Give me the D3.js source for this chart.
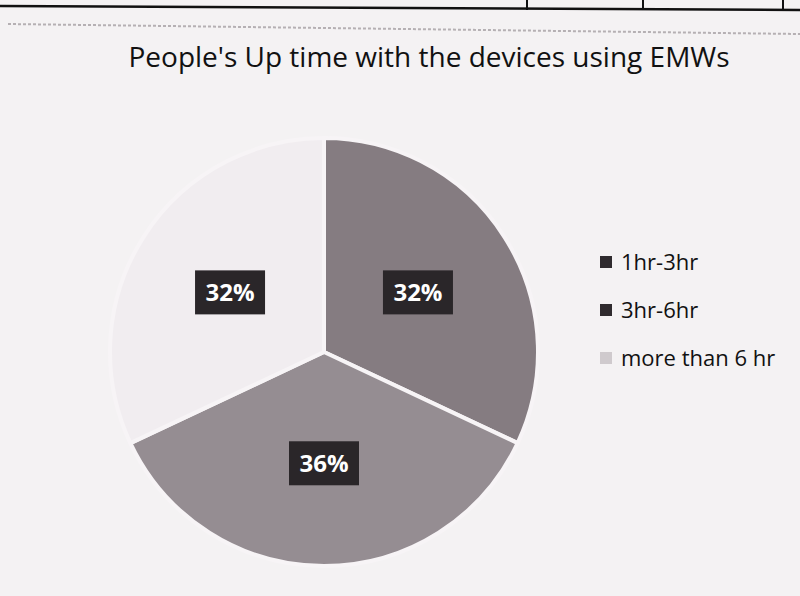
<!DOCTYPE html>
<html lang="en">
<head>
<meta charset="UTF-8">
<title>People's Up time with the devices using EMWs</title>
<script src="https://d3js.org/d3.v7.min.js"></script>
<style>
  body { margin: 0; background: #f4f2f3; }
  svg { display: block; }
</style>
</head>
<body>
<div id="grafico"></div>
<script>
// dados do grafico
const categorias = ["1hr-3hr", "3hr-6hr", "more than 6 hr"];
const valores = [32, 36, 32];
const rotulos = ["32%", "36%", "32%"];
const cores = ["#857c81", "#958d92", "#f1edf0"];

const width = 800, height = 596;
const svg = d3.select("#grafico").append("svg")
  .attr("width", width).attr("height", height);

// fundo (papel)
svg.append("rect").attr("width", width).attr("height", height).attr("fill", "#f4f2f3");

// linhas da tabela no topo da folha
svg.append("line").attr("x1", 0).attr("y1", 6).attr("x2", 800).attr("y2", 10)
  .attr("stroke", "#111").attr("stroke-width", 2.5);
[527, 643, 783].forEach(x => {
  svg.append("line").attr("x1", x).attr("y1", 0).attr("x2", x).attr("y2", 10)
    .attr("stroke", "#111").attr("stroke-width", 2);
});
svg.append("line").attr("x1", 8).attr("y1", 24).attr("x2", 800).attr("y2", 34)
  .attr("stroke", "#b5b0b3").attr("stroke-width", 2).attr("stroke-dasharray", "3,2");

// titulo
svg.append("text")
  .attr("x", 429).attr("y", 67)
  .attr("text-anchor", "middle")
  .attr("font-family", "'Open Sans', sans-serif")
  .attr("font-size", 28)
  .attr("fill", "#111")
  .text("People's Up time with the devices using EMWs");

// pizza
const cx = 324, cy = 352, raio = 214;
const pie = d3.pie().sort(null).value(d => d);
const arc = d3.arc().innerRadius(0).outerRadius(raio);
const arcos = pie(valores);

const g = svg.append("g").attr("transform", `translate(${cx},${cy})`);
g.selectAll("path")
  .data(arcos)
  .enter().append("path")
  .attr("d", arc)
  .attr("fill", (d, i) => cores[i])
  .attr("stroke", "#f7f4f6")
  .attr("stroke-width", 4)
  .attr("stroke-linejoin", "round");

// rotulos de porcentagem
const arcRotulo = d3.arc().innerRadius(raio * 0.52).outerRadius(raio * 0.52);
const lbl = g.selectAll(".rot")
  .data(arcos)
  .enter().append("g")
  .attr("class", "rot")
  .attr("transform", d => {
    const [x, y] = arcRotulo.centroid(d);
    return `translate(${x},${y})`;
  });
lbl.append("rect")
  .attr("x", -35).attr("y", -22).attr("width", 70).attr("height", 44)
  .attr("fill", "#2a2629");
lbl.append("text")
  .attr("text-anchor", "middle")
  .attr("dy", "0.36em")
  .attr("font-family", "'Open Sans', sans-serif")
  .attr("font-weight", "bold")
  .attr("font-size", 24)
  .attr("fill", "#fff")
  .text((d, i) => rotulos[i]);

// legenda
const legenda = svg.append("g").attr("transform", "translate(600,262)");
const item = legenda.selectAll("g")
  .data(categorias)
  .enter().append("g")
  .attr("transform", (d, i) => `translate(0,${i * 48})`);
item.append("rect")
  .attr("x", 0).attr("y", -6).attr("width", 12).attr("height", 12)
  .attr("fill", (d, i) => i < 2 ? "#2f2b2e" : "#cfcacd");
item.append("text")
  .attr("x", 21).attr("dy", "0.36em")
  .attr("font-family", "'Open Sans', sans-serif")
  .attr("font-size", 22)
  .attr("fill", "#111")
  .text(d => d);
</script>
</body>
</html>
